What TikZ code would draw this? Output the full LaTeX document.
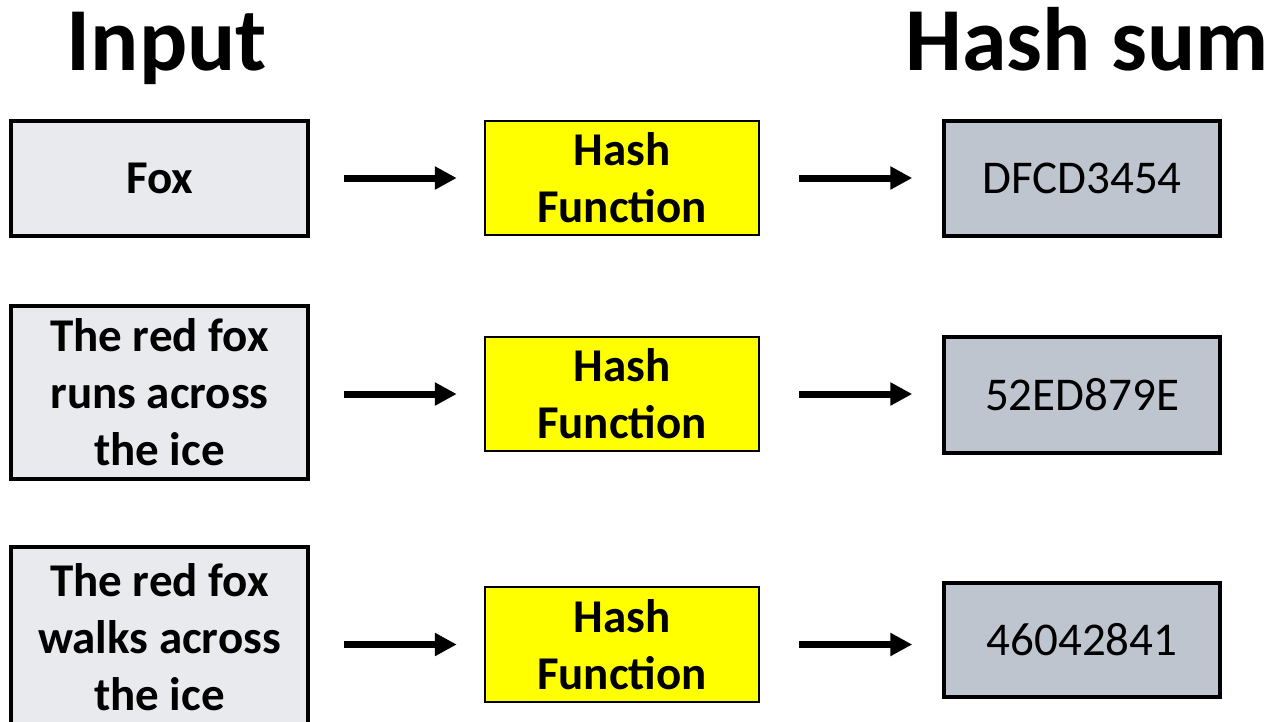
\documentclass[tikz,border=0pt]{standalone}
\usepackage{fontspec}
\setmainfont{Carlito}
\usetikzlibrary{arrows.meta}
\definecolor{inbg}{HTML}{E9EAEE}
\definecolor{outbg}{HTML}{BEC5CF}
\definecolor{hashbg}{HTML}{FFFF00}
\tikzset{
  inbox/.style={draw=black, line width=3.5pt, fill=inbg, minimum width=297pt, inner sep=0pt, align=center, font=\fontsize{47}{57}\selectfont\bfseries},
  hashbox/.style={draw=black, line width=2.5pt, fill=hashbg, minimum width=274pt, minimum height=114pt, inner sep=0pt, align=center, font=\fontsize{47}{57}\selectfont\bfseries},
  outbox/.style={draw=black, line width=3.5pt, fill=outbg, minimum width=276pt, minimum height=115pt, inner sep=0pt, align=center, font=\fontsize{47}{57}\selectfont},
  title/.style={inner sep=0pt, font=\fontsize{90}{100}\selectfont\bfseries},
  arr/.style={line width=7pt, -{Triangle[length=22pt,width=22pt]}},
}
\begin{document}
\begin{tikzpicture}[x=1pt,y=-1pt]
\useasboundingbox (0,0) rectangle (1272,721);
\clip (0,0) rectangle (1272,721);
\fill[white] (0,0) rectangle (1272,721);
\node[title, anchor=base] (tin) at (167,70) {Input};
\node[title, anchor=base east] (tout) at (1269,70) {Hash sum};
% row 1
\node[inbox, minimum height=115pt] (in1) at (159.5,178.5) {Fox};
\node[hashbox] (h1) at (622,178) {Hash\\Function};
\node[outbox] (o1) at (1082,178.5) {DFCD3454};
% row 2
\node[inbox, minimum height=173pt] (in2) at (159.5,392.5) {The red fox\\runs across\\the ice};
\node[hashbox] (h2) at (622,394) {Hash\\Function};
\node[outbox, minimum height=116pt] (o2) at (1082,395) {52ED879E};
% row 3
\node[inbox, minimum height=180pt] (in3) at (159.5,637) {The red fox\\walks across\\the ice};
\node[hashbox, minimum height=115pt] (h3) at (622,644.5) {Hash\\Function};
\node[outbox, minimum height=114pt] (o3) at (1082,640) {46042841};
% arrows
\draw[arr, shorten <=34pt, shorten >=27pt] (in1.east |- h1.west) -- (h1.west);
\draw[arr, shorten <=39pt, shorten >=30pt] (h1.east) -- (o1.west |- h1.east);
\draw[arr, shorten <=34pt, shorten >=27pt] (in2.east |- h2.west) -- (h2.west);
\draw[arr, shorten <=39pt, shorten >=30pt] (h2.east) -- (o2.west |- h2.east);
\draw[arr, shorten <=34pt, shorten >=27pt] (in3.east |- h3.west) -- (h3.west);
\draw[arr, shorten <=39pt, shorten >=30pt] (h3.east) -- (o3.west |- h3.east);
\end{tikzpicture}
\end{document}
